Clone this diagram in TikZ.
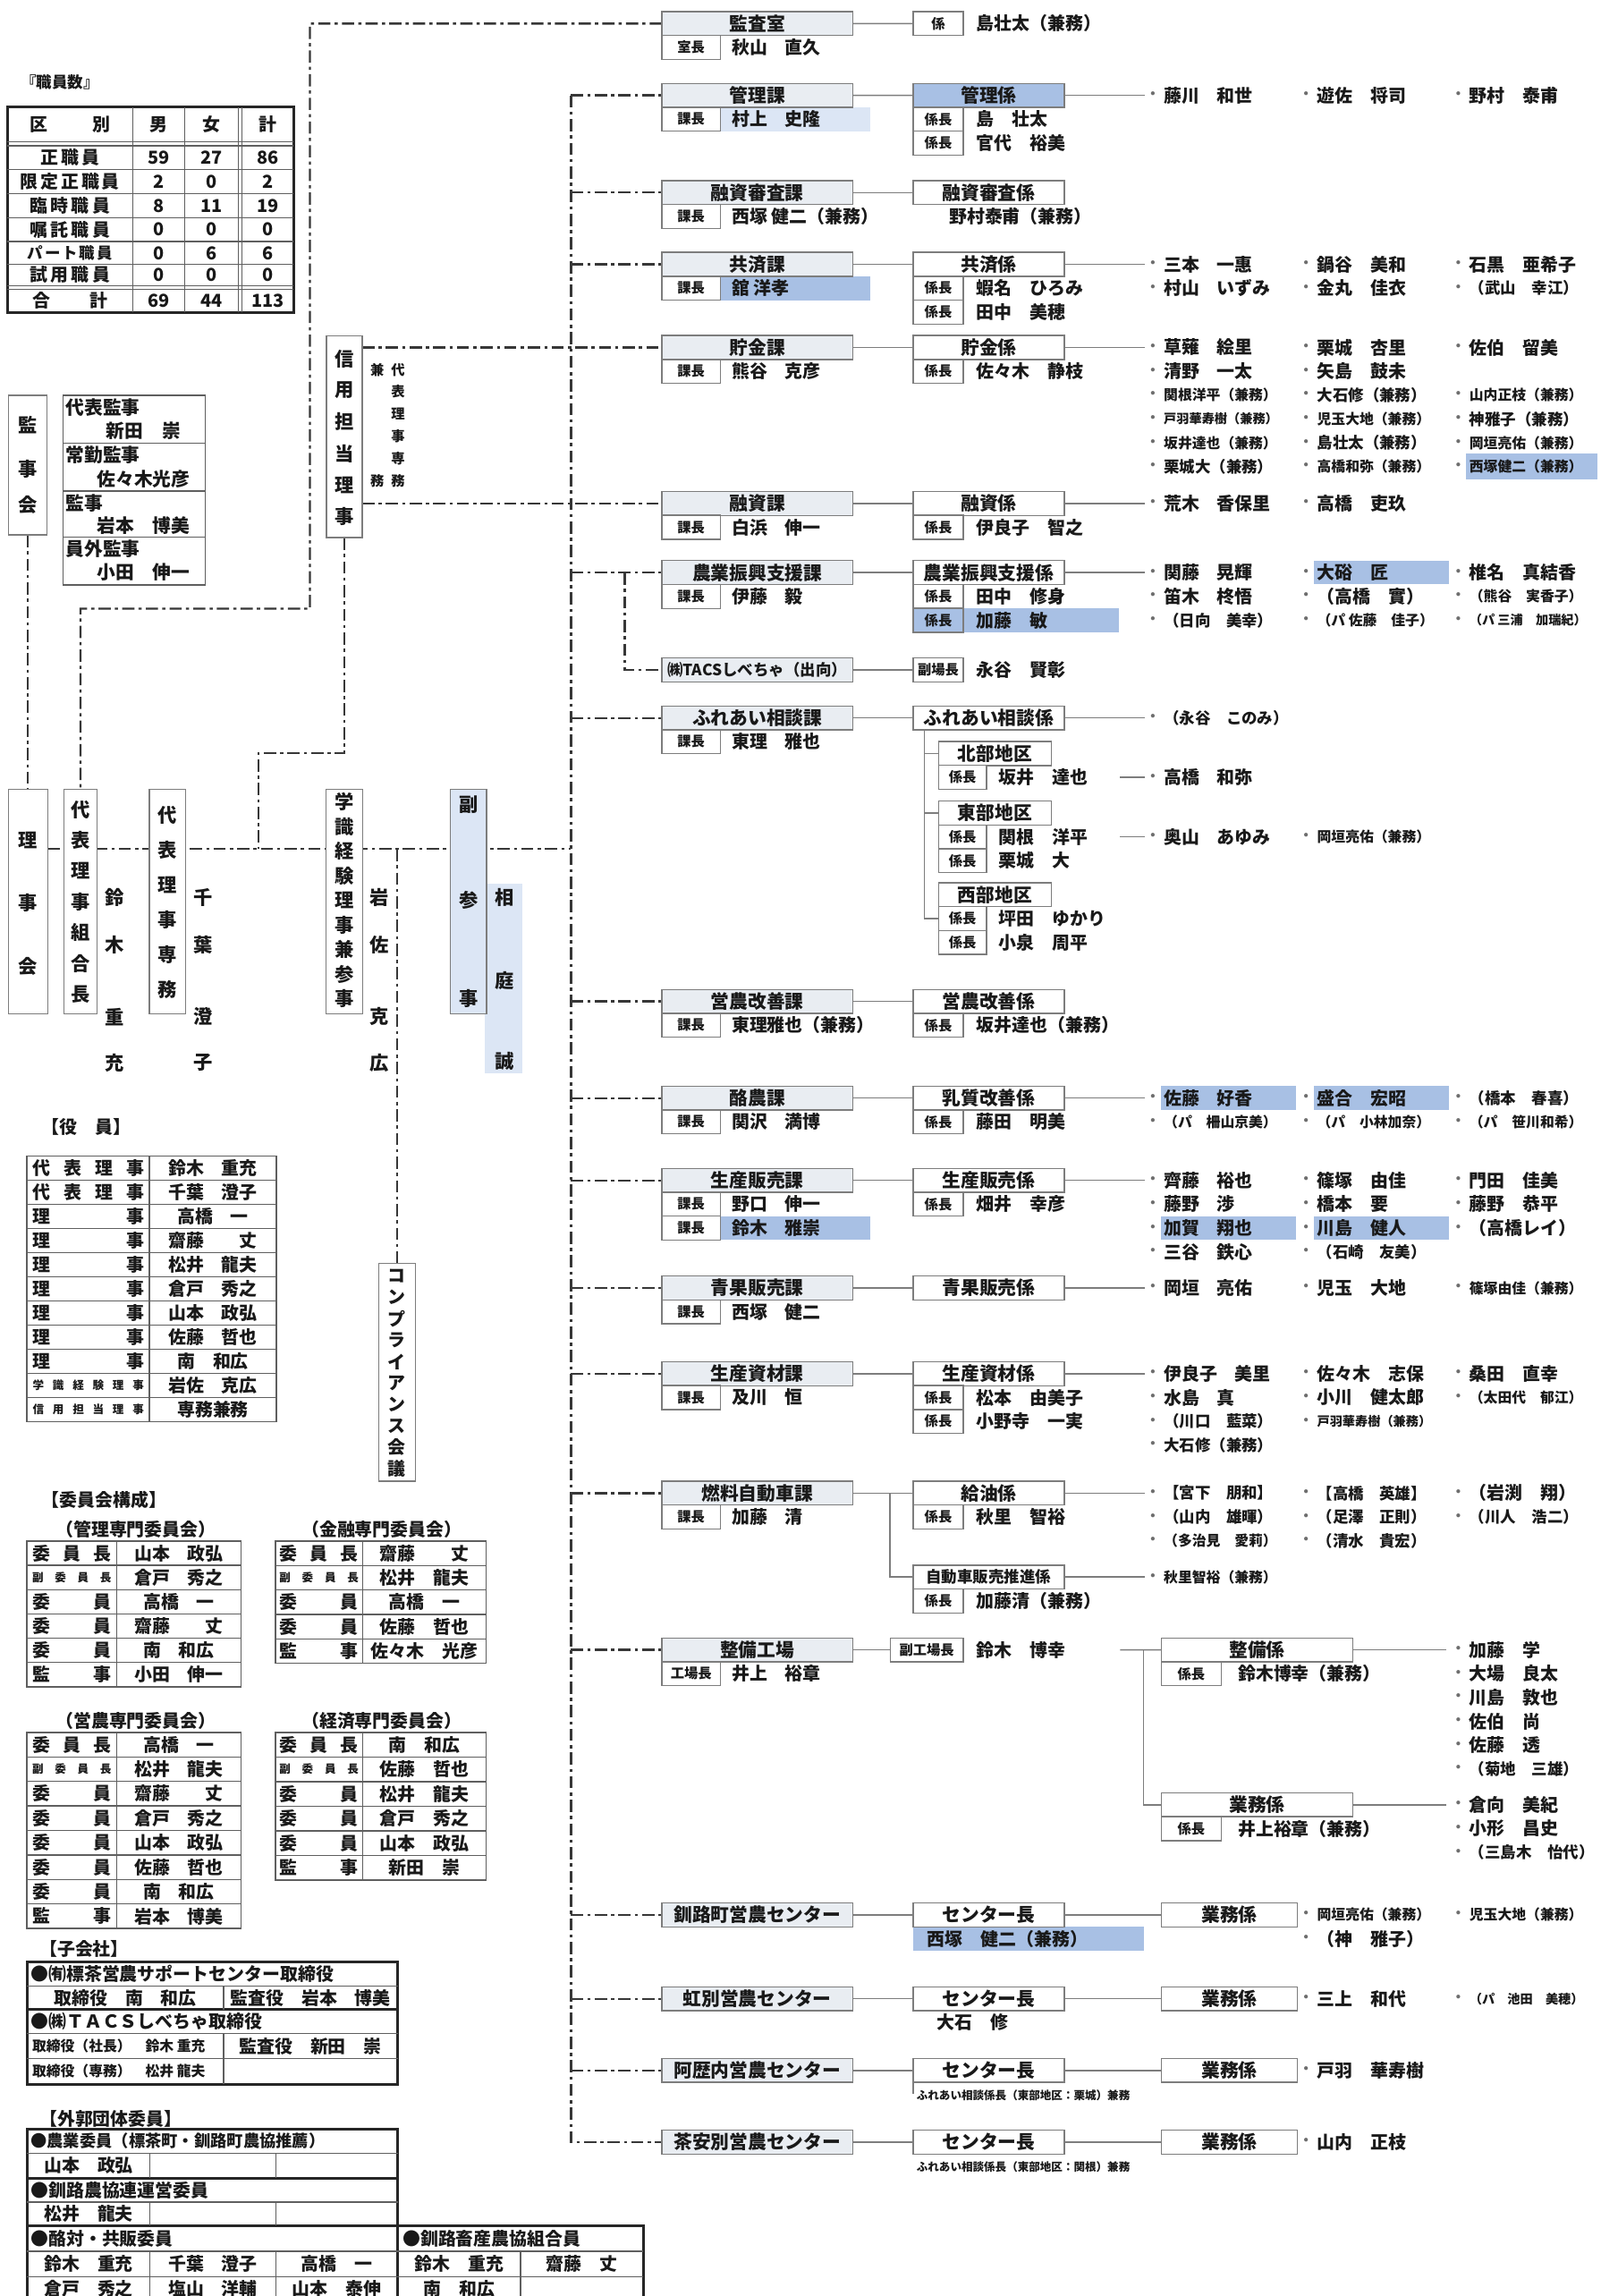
\documentclass[tikz,border=0pt]{standalone}
\usepackage{fontspec}
\setmainfont{Noto Sans CJK JP}
\usetikzlibrary{calc,backgrounds}
\pgfdeclarelayer{backzero}
\pgfsetlayers{backzero,background,main}
\definecolor{txtc}{RGB}{25,25,25}
\definecolor{bordc}{RGB}{125,125,125}
\definecolor{dashc}{RGB}{55,55,55}
\definecolor{hdrc}{RGB}{233,237,242}
\definecolor{hlb}{RGB}{168,192,228}
\definecolor{hll}{RGB}{220,230,245}
\definecolor{dotc}{RGB}{110,110,110}
\definecolor{tblc}{RGB}{95,95,95}
\newcommand\szH{\fontsize{7.6pt}{8pt}\selectfont\bfseries}
\newcommand\szN{\fontsize{7.3pt}{8pt}\selectfont\bfseries}
\newcommand\szM{\fontsize{6.4pt}{7pt}\selectfont\bfseries}
\newcommand\szE{\fontsize{5.8pt}{6pt}\selectfont\bfseries}
\newcommand\szT{\fontsize{5.2pt}{6pt}\selectfont\bfseries}
\newcommand\szU{\fontsize{4.6pt}{5pt}\selectfont\bfseries}
\newcommand\szS{\fontsize{5.6pt}{6pt}\selectfont\bfseries}
\newcommand\szV{\fontsize{7.8pt}{8pt}\selectfont\bfseries}
\newcommand\szL{\fontsize{6.7pt}{7pt}\selectfont\bfseries}
\def\xa{787.3}\def\xb{892}\def\xc{996}
\newcommand\myV[6]{\foreach \jch [count=\ji from 0] in {#6} {\node[font=#5] at (#1,{#2+(#3-#2)*\ji/(#4-1)}) {\jch};}}
\newcommand\mySec[3]{\node[kahdr] (#1) at (452,{#2-8.15}) {#3};}
\newcommand\myRowA[5]{\node[labA] (#1) at (452,{#2+8.15+16.3*#3}) {#4};\node[nm] (#1t) at (499.7,{#2+16.3+16.3*#3}) {#5};}
\newcommand\myKak[3]{\node[kbox] (#1) at (623.6,{#2-8.15}) {#3};}
\newcommand\myRowB[5]{\node[labB] (#1) at (623.6,{#2+8.15+16.3*#3}) {#4};\node[nm] (#1t) at (667,{#2+16.3+16.3*#3}) {#5};}
\newcommand\myP[5]{\node[font=\szS,text=dotc] (#1d) at (#2,#3) {・};\node[anchor=west,font=#4] (#1) at ({#2+7.5},#3) {#5};}
\newcommand\myTable[8]{%
 \draw[tblc,line width=0.6pt] (#1,#4) rectangle (#3,{#4+#6*#5});
 \draw[tblc,line width=0.5pt] (#2,#4) -- (#2,{#4+#6*#5});
 \foreach \tlab/\tnam [count=\ti from 0] in {#8} {
  \ifnum\ti>0 \draw[tblc,line width=0.5pt] (#1,{#4+#6*\ti}) -- (#3,{#4+#6*\ti}); \fi
  \node[font=\szN] at ({(#1+#2)/2},{#4+#6*\ti+#6/2}) {\makebox[#7][s]{\tlab}};
  \node[font=\szN] at ({(#2+#3)/2},{#4+#6*\ti+#6/2}) {\tnam};
 }}
\begin{document}
\begin{tikzpicture}[x=0.6pt,y=-0.6pt,
 every node/.style={inner sep=0pt,outer sep=0pt,text=txtc},
 bx/.style={draw=bordc,line width=0.5pt,fill=white,minimum height=9.8pt,anchor=north west},
 kahdr/.style={bx,fill=hdrc,minimum width=78.2pt,font=\szH},
 labA/.style={bx,minimum width=24pt,font=\szS},
 kbox/.style={bx,minimum width=61.9pt,font=\szH},
 labB/.style={bx,minimum width=20.6pt,font=\szS},
 abox/.style={bx,minimum width=46.2pt,font=\szH},
 labC/.style={bx,minimum width=19.6pt,font=\szS},
 sbox/.style={bx,minimum width=78.6pt,font=\szH},
 labD/.style={bx,minimum width=24.6pt,font=\szS},
 gbox/.style={bx,minimum width=55.8pt,font=\szH},
 vbox/.style={draw=bordc,line width=0.5pt,fill=white},
 nm/.style={anchor=west,font=\szN},
 vch/.style={font=\szV},
 dl/.style={draw=dashc,line width=0.85pt,dash pattern=on 5pt off 1.7pt on 1.3pt off 1.7pt},
 sl/.style={draw=bordc,line width=0.55pt},
 tl/.style={draw=tblc,line width=0.5pt},
 tk/.style={draw=black!85,line width=1pt}]
\useasboundingbox (0,0) rectangle (1093,1568);
\begin{pgfonlayer}{backzero}\fill[white] (0,0) rectangle (1093,1568);\end{pgfonlayer}

% ===== staff table
\node[anchor=west,font=\szM] (tshok) at (14.3,55.9) {『職員数』};
\draw[tk] (5.1,73.1) rectangle (200.5,213.3);
\foreach \yy in {115.9,132.3,148.6,165,180.5,96.9,99.5,195,197.6} \draw[tl] (5.1,\yy) -- (200.5,\yy);
\foreach \xx in {90.6,126.2,162.6,165.2} \draw[tl] (\xx,73.1) -- (\xx,213.3);
\node[font=\szN] at (47.8,85) {\makebox[33pt][s]{区\hfill 別}};
\node[font=\szN] at (108.4,85) {男};
\node[font=\szN] at (144.4,85) {女};
\node[font=\szN] at (182.85,85) {計};
\foreach \jla/\jwd/\jaa/\jbb/\jcc/\yy in {{正\hfill 職\hfill 員}/24pt/59/27/86/107.7,{限\hfill 定\hfill 正\hfill 職\hfill 員}/40.8pt/2/0/2/124.1,{臨\hfill 時\hfill 職\hfill 員}/33pt/8/11/19/140.45,{嘱\hfill 託\hfill 職\hfill 員}/33pt/0/0/0/156.8,{\szM パ\hfill ー\hfill ト\hfill 職\hfill 員}/34.8pt/0/6/6/172.75,{試\hfill 用\hfill 職\hfill 員}/33pt/0/0/0/187.75,{合\hfill 計}/30.6pt/69/44/113/205.45}{
 \node[font=\szN] at (47.8,\yy) {\makebox[\jwd][s]{\jla}};
 \node[font=\szN] at (108.4,\yy) {\jaa};
 \node[font=\szN] at (144.4,\yy) {\jbb};
 \node[font=\szN] at (182.85,\yy) {\jcc};}

% ===== auditors
\node[vbox,minimum width=15.9pt,minimum height=57.2pt] (kanjikai) at (18.95,317.7) {};
\foreach \jch/\yy in {監/290.4,事/320.4,会/345} \node[vch] at (18.95,\yy) {\jch};
\draw[tl] (43.2,270) rectangle (140,399.5);
\foreach \yy in {302.7,335.4,366.8} \draw[tl] (43.2,\yy) -- (140,\yy);
\foreach \jla/\jna/\ya/\yb in {代表監事/新田　崇/278.5/294,常勤監事/佐々木光彦/311/327,監事/岩本　博美/343.5/359,員外監事/小田　伸一/375/391}{
 \node[anchor=west,font=\szH] at (45,\ya) {\jla};
 \node[font=\szH] at (98,\yb) {\jna};}

% ===== vertical boxes
\node[vbox,minimum width=14.6pt,minimum height=82.7pt] (shinyo) at (235.2,298.3) {};
\myV{235.2}{245.1}{352.7}{6}{\szV}{信,用,担,当,理,事}
\node[font=\szS] at (257.6,252.4) {兼};
\node[font=\szS] at (257.6,328.5) {務};
\myV{271.8}{252.4}{328.5}{6}{\szS}{代,表,理,事,専,務}

\node[vbox,minimum width=16pt,minimum height=92pt] (rijikai) at (19.3,615.65) {};
\myV{19.3}{574}{659.7}{3}{\szV}{理,事,会}
\node[vbox,minimum width=13.7pt,minimum height=92pt] (dai1) at (54.95,615.65) {};
\myV{54.95}{552.8}{679}{7}{\szV}{代,表,理,事,組,合,長}
\foreach \jch/\yy in {鈴/612.9,木/645.4,重/694.3,充/725.8} \node[vch] at (78.5,\yy) {\jch};
\node[vbox,minimum width=14.9pt,minimum height=92pt] (dai2) at (114.4,615.65) {};
\myV{114.4}{556.9}{676}{6}{\szV}{代,表,理,事,専,務}
\foreach \jch/\yy in {千/612.9,葉/645.4,澄/694.3,子/725.8} \node[vch] at (139,\yy) {\jch};
\node[vbox,minimum width=14.9pt,minimum height=92pt] (gaku) at (235.2,615.65) {};
\myV{235.2}{547.7}{682}{9}{\szV}{学,識,経,験,理,事,兼,参,事}
\foreach \jch/\yy in {岩/612.9,佐/645.4,克/694.3,広/725.8} \node[vch] at (259,\yy) {\jch};
\node[vbox,fill=hll,minimum width=14.8pt,minimum height=92pt] (fuku) at (319.9,615.65) {};
\foreach \jch/\yy in {副/549.7,参/614.9,事/682} \node[vch] at (319.9,\yy) {\jch};
\foreach \jch/\yy in {相/612.9,庭/669.9,誠/724.8} \node[vch] at (344.3,\yy) {\jch};
\node[vbox,minimum width=15pt,minimum height=89.2pt] (compl) at (271.15,937.3) {};
\myV{271.15}{871.5}{1002.9}{10}{\szN}{コ,ン,プ,ラ,イ,ア,ン,ス,会,議}

% ===== officers table
\node[anchor=west,font=\szN] (tyaku) at (28.4,769.7) {【役　員】};
\myTable{18.5}{102.1}{188.7}{789.5}{11}{16.49}{45.6pt}{{代\hfill 表\hfill 理\hfill 事}/{鈴木　重充},{代\hfill 表\hfill 理\hfill 事}/{千葉　澄子},{理\hfill 事}/{高橋　一},{理\hfill 事}/{齋藤　　丈},{理\hfill 事}/{松井　龍夫},{理\hfill 事}/{倉戸　秀之},{理\hfill 事}/{山本　政弘},{理\hfill 事}/{佐藤　哲也},{理\hfill 事}/{南　和広},{\szU 学\hfill 識\hfill 経\hfill 験\hfill 理\hfill 事}/{岩佐　克広},{\szU 信\hfill 用\hfill 担\hfill 当\hfill 理\hfill 事}/{専務兼務}}

% ===== committees
\node[anchor=west,font=\szN] (tiin) at (28.4,1024.3) {【委員会構成】};
\node[font=\szN] at (92.8,1044.6) {（管理専門委員会）};
\node[font=\szN] at (260.7,1044.6) {（金融専門委員会）};
\node[font=\szN] at (92.8,1175) {（営農専門委員会）};
\node[font=\szN] at (260.7,1175) {（経済専門委員会）};
\myTable{18.5}{79.6}{164.7}{1052.4}{6}{16.6}{32.4pt}{{委\hfill 員\hfill 長}/{山本　政弘},{\szU 副\hfill 委\hfill 員\hfill 長}/{倉戸　秀之},{委\hfill 員}/{高橋　一},{委\hfill 員}/{齋藤　　丈},{委\hfill 員}/{南　和広},{監\hfill 事}/{小田　伸一}}
\myTable{188}{247.7}{332}{1052.4}{5}{16.7}{32.4pt}{{委\hfill 員\hfill 長}/{齋藤　　丈},{\szU 副\hfill 委\hfill 員\hfill 長}/{松井　龍夫},{委\hfill 員}/{高橋　一},{委\hfill 員}/{佐藤　哲也},{監\hfill 事}/{佐々木　光彦}}
\myTable{18.5}{79.6}{164.7}{1183.1}{8}{16.74}{32.4pt}{{委\hfill 員\hfill 長}/{高橋　一},{\szU 副\hfill 委\hfill 員\hfill 長}/{松井　龍夫},{委\hfill 員}/{齋藤　　丈},{委\hfill 員}/{倉戸　秀之},{委\hfill 員}/{山本　政弘},{委\hfill 員}/{佐藤　哲也},{委\hfill 員}/{南　和広},{監\hfill 事}/{岩本　博美}}
\myTable{188}{247.7}{332}{1183.1}{6}{16.8}{32.4pt}{{委\hfill 員\hfill 長}/{南　和広},{\szU 副\hfill 委\hfill 員\hfill 長}/{佐藤　哲也},{委\hfill 員}/{松井　龍夫},{委\hfill 員}/{倉戸　秀之},{委\hfill 員}/{山本　政弘},{監\hfill 事}/{新田　崇}}

% ===== subsidiaries
\node[anchor=west,font=\szN] (tko) at (27,1330.7) {【子会社】};
\draw[tk] (18.5,1339.9) rectangle (271.6,1423.3);
\draw[tk] (18.5,1372.4) -- (271.6,1372.4);
\foreach \yy in {1356.2,1388.7,1406} \draw[tl] (18.5,\yy) -- (271.6,\yy);
\draw[tl] (152.7,1356.2) -- (152.7,1372.4);
\draw[tl] (152.7,1388.7) -- (152.7,1423.3);
\node[anchor=west,font=\szN] at (21,1348) {●㈲標茶営農サポートセンター取締役};
\node[font=\szN] at (85.6,1364.3) {取締役　南　和広};
\node[font=\szN] at (212,1364.3) {監査役　岩本　博美};
\node[anchor=west,font=\szN] at (21,1380.5) {●㈱ＴＡＣＳしべちゃ取締役};
\node[anchor=west,font=\szE] at (22,1397.3) {取締役（社長）　鈴木 重充};
\node[font=\szN] at (212,1397.3) {監査役　新田　崇};
\node[anchor=west,font=\szE] at (22,1414.6) {取締役（専務）　松井 龍夫};

% ===== external
\node[anchor=west,font=\szN] (tgai) at (27,1446.8) {【外郭団体委員】};
\draw[tk] (18.5,1570) -- (18.5,1453.9) -- (271.6,1453.9) -- (271.6,1570);
\draw[tk] (18.5,1487.5) -- (271.6,1487.5);
\draw[tk] (18.5,1520) -- (439.4,1520) -- (439.4,1570);
\foreach \yy in {1470.6,1503.8} \draw[tl] (18.5,\yy) -- (271.6,\yy);
\foreach \yy in {1537.4,1554.7} \draw[tl] (18.5,\yy) -- (439.4,\yy);
\foreach \xx in {102.4,188.3} {\draw[tl] (\xx,1470.6) -- (\xx,1487.5); \draw[tl] (\xx,1503.8) -- (\xx,1520); \draw[tl] (\xx,1537.4) -- (\xx,1570);}
\draw[tl] (355.5,1537.4) -- (355.5,1570);
\node[anchor=west,font=\szL] at (21,1462.3) {●農業委員（標茶町・釧路町農協推薦）};
\node[font=\szN] at (60.5,1479) {山本　政弘};
\node[anchor=west,font=\szN] at (21,1495.7) {●釧路農協連運営委員};
\node[font=\szN] at (60.5,1511.9) {松井　龍夫};
\node[anchor=west,font=\szN] at (21,1528.7) {●酪対・共販委員};
\node[anchor=west,font=\szN] at (275,1528.7) {●釧路畜産農協組合員};
\foreach \jna/\xx in {鈴木　重充/60.5,千葉　澄子/145.4,高橋　一/230,鈴木　重充/313.6,齋藤　丈/397.5} \node[font=\szN] at (\xx,1546) {\jna};
\foreach \jna/\xx in {倉戸　秀之/60.5,塩山　洋輔/145.4,山本　泰伸/230,南　和広/313.6} \node[font=\szN] at (\xx,1563.3) {\jna};

% ===== right side sections
\mySec{kansa}{16.1}{監査室}
\myRowA{kansaA}{16.1}{0}{室長}{秋山　直久}
\node[labB] (kansak) at (623.6,7.95) {係};
\node[nm] (kansan) at (667,16.1) {島壮太（兼務）};

\mySec{kanri}{65.1}{管理課}
\myRowA{kanriA}{65.1}{0}{課長}{村上　史隆}
\node[kbox,fill=hlb] (kanrik) at (623.6,56.95) {管理係};
\myRowB{kanrikA}{65.1}{0}{係長}{島　壮太}
\myRowB{kanrikB}{65.1}{1}{係長}{官代　裕美}
\myP{p11}{\xa}{65.1}{\szN}{藤川　和世}
\myP{p12}{\xb}{65.1}{\szN}{遊佐　将司}
\myP{p13}{\xc}{65.1}{\szN}{野村　泰甫}

\mySec{yushin}{131.5}{融資審査課}
\myRowA{yushinA}{131.5}{0}{課長}{西塚 健二（兼務）}
\myKak{yushink}{131.5}{融資審査係}
\node[nm] (yushinn) at (648.2,147.8) {野村泰甫（兼務）};

\mySec{kyosai}{180.5}{共済課}
\myRowA{kyosaiA}{180.5}{0}{課長}{舘 洋孝}
\myKak{kyosaik}{180.5}{共済係}
\myRowB{kyosaikA}{180.5}{0}{係長}{蝦名　ひろみ}
\myRowB{kyosaikB}{180.5}{1}{係長}{田中　美穂}
\myP{q11}{\xa}{180.5}{\szN}{三本　一惠}
\myP{q12}{\xb}{180.5}{\szN}{鍋谷　美和}
\myP{q13}{\xc}{180.5}{\szN}{石黒　亜希子}
\myP{q21}{\xa}{196.8}{\szN}{村山　いずみ}
\myP{q22}{\xb}{196.8}{\szN}{金丸　佳衣}
\myP{q23}{\xc}{196.8}{\szM}{（武山　幸江）}

\mySec{chokin}{237.3}{貯金課}
\myRowA{chokinA}{237.3}{0}{課長}{熊谷　克彦}
\myKak{chokink}{237.3}{貯金係}
\myRowB{chokinkA}{237.3}{0}{係長}{佐々木　静枝}
\myP{c11}{\xa}{237.3}{\szN}{草薙　絵里}
\myP{c12}{\xb}{237.3}{\szN}{栗城　杏里}
\myP{c13}{\xc}{237.3}{\szN}{佐伯　留美}
\myP{c21}{\xa}{253.6}{\szN}{清野　一太}
\myP{c22}{\xb}{253.6}{\szN}{矢島　鼓未}
\myP{c31}{\xa}{269.9}{\szE}{関根洋平（兼務）}
\myP{c32}{\xb}{269.9}{\szM}{大石修（兼務）}
\myP{c33}{\xc}{269.9}{\szE}{山内正枝（兼務）}
\myP{c41}{\xa}{286.2}{\szT}{戸羽華寿樹（兼務）}
\myP{c42}{\xb}{286.2}{\szE}{児玉大地（兼務）}
\myP{c43}{\xc}{286.2}{\szM}{神雅子（兼務）}
\myP{c51}{\xa}{302.5}{\szE}{坂井達也（兼務）}
\myP{c52}{\xb}{302.5}{\szM}{島壮太（兼務）}
\myP{c53}{\xc}{302.5}{\szE}{岡垣亮佑（兼務）}
\myP{c61}{\xa}{318.8}{\szM}{栗城大（兼務）}
\myP{c62}{\xb}{318.8}{\szE}{高橋和弥（兼務）}
\myP{c63}{\xc}{318.8}{\szE}{西塚健二（兼務）}

\mySec{yushi}{343.8}{融資課}
\myRowA{yushiA}{343.8}{0}{課長}{白浜　伸一}
\myKak{yushik}{343.8}{融資係}
\myRowB{yushikA}{343.8}{0}{係長}{伊良子　智之}
\myP{r11}{\xa}{343.8}{\szN}{荒木　香保里}
\myP{r12}{\xb}{343.8}{\szN}{高橋　吏玖}

\mySec{nogyo}{391}{農業振興支援課}
\myRowA{nogyoA}{391}{0}{課長}{伊藤　毅}
\myKak{nogyok}{391}{農業振興支援係}
\myRowB{nogyokA}{391}{0}{係長}{田中　修身}
\node[labB,fill=hlb] (nogyokB) at (623.6,415.45) {係長};
\node[nm] (nogyokBt) at (667,423.6) {加藤　敏};
\myP{s11}{\xa}{391}{\szN}{関藤　晃輝}
\myP{s12}{\xb}{391}{\szN}{大硲　匠}
\myP{s13}{\xc}{391}{\szN}{椎名　真結香}
\myP{s21}{\xa}{407.3}{\szN}{笛木　柊悟}
\myP{s22}{\xb}{407.3}{\szN}{（高橋　實）}
\myP{s23}{\xc}{407.3}{\szE}{（熊谷　実香子）}
\myP{s31}{\xa}{423.6}{\szM}{（日向　美幸）}
\myP{s32}{\xb}{423.6}{\szE}{（パ 佐藤　佳子）}
\myP{s33}{\xc}{423.6}{\szT}{（パ 三浦　加瑞紀）}

\node[kahdr,font=\szM] (tacs) at (452,449.35) {㈱TACSしべちゃ（出向）};
\node[labB] (tacsk) at (623.6,449.35) {副場長};
\node[nm] (tacsn) at (667,457.5) {永谷　賢彰};

\mySec{fureai}{490.3}{ふれあい相談課}
\myRowA{fureaiA}{490.3}{0}{課長}{東理　雅也}
\myKak{fureaik}{490.3}{ふれあい相談係}
\myP{u11}{\xa}{490.3}{\szM}{（永谷　このみ）}
\node[abox] (hokubu) at (641,506.45) {北部地区};
\node[labC] (hokubuA) at (641,522.75) {係長};
\node[nm] (hokubuAt) at (682,530.9) {坂井　達也};
\coordinate (hkd1) at (765,530.9); \coordinate (hkd2) at (782,530.9);
\myP{u21}{\xa}{530.9}{\szN}{高橋　和弥}
\node[abox] (tobu) at (641,547.05) {東部地区};
\node[labC] (tobuA) at (641,563.35) {係長};
\node[nm] (tobuAt) at (682,571.5) {関根　洋平};
\node[labC] (tobuB) at (641,579.65) {係長};
\node[nm] (tobuBt) at (682,587.8) {栗城　大};
\coordinate (tbd1) at (765,571.5); \coordinate (tbd2) at (782,571.5);
\myP{u31}{\xa}{571.5}{\szN}{奥山　あゆみ}
\myP{u32}{\xb}{571.5}{\szE}{岡垣亮佑（兼務）}
\node[abox] (seibu) at (641,602.85) {西部地区};
\node[labC] (seibuA) at (641,619.15) {係長};
\node[nm] (seibuAt) at (682,627.3) {坪田　ゆかり};
\node[labC] (seibuB) at (641,635.45) {係長};
\node[nm] (seibuBt) at (682,643.6) {小泉　周平};

\mySec{einou}{683.9}{営農改善課}
\myRowA{einouA}{683.9}{0}{課長}{東理雅也（兼務）}
\myKak{einouk}{683.9}{営農改善係}
\myRowB{einoukA}{683.9}{0}{係長}{坂井達也（兼務）}

\mySec{rakuno}{749.9}{酪農課}
\myRowA{rakunoA}{749.9}{0}{課長}{関沢　満博}
\myKak{rakunok}{749.9}{乳質改善係}
\myRowB{rakunokA}{749.9}{0}{係長}{藤田　明美}
\myP{v11}{\xa}{749.9}{\szN}{佐藤　好香}
\myP{v12}{\xb}{749.9}{\szN}{盛合　宏昭}
\myP{v13}{\xc}{749.9}{\szM}{（橋本　春喜）}
\myP{v21}{\xa}{766.2}{\szE}{（パ　柵山京美）}
\myP{v22}{\xb}{766.2}{\szE}{（パ　小林加奈）}
\myP{v23}{\xc}{766.2}{\szE}{（パ　笹川和希）}

\mySec{seihan}{806.1}{生産販売課}
\myRowA{seihanA}{806.1}{0}{課長}{野口　伸一}
\myRowA{seihanB}{806.1}{1}{課長}{鈴木　雅崇}
\myKak{seihank}{806.1}{生産販売係}
\myRowB{seihankA}{806.1}{0}{係長}{畑井　幸彦}
\myP{w11}{\xa}{806.1}{\szN}{齊藤　裕也}
\myP{w12}{\xb}{806.1}{\szN}{篠塚　由佳}
\myP{w13}{\xc}{806.1}{\szN}{門田　佳美}
\myP{w21}{\xa}{822.4}{\szN}{藤野　渉}
\myP{w22}{\xb}{822.4}{\szN}{橋本　要}
\myP{w23}{\xc}{822.4}{\szN}{藤野　恭平}
\myP{w31}{\xa}{838.7}{\szN}{加賀　翔也}
\myP{w32}{\xb}{838.7}{\szN}{川島　健人}
\myP{w33}{\xc}{838.7}{\szN}{（高橋レイ）}
\myP{w41}{\xa}{855}{\szN}{三谷　鉄心}
\myP{w42}{\xb}{855}{\szM}{（石崎　友美）}

\mySec{seika}{879.6}{青果販売課}
\myRowA{seikaA}{879.6}{0}{課長}{西塚　健二}
\myKak{seikak}{879.6}{青果販売係}
\myP{x11}{\xa}{879.6}{\szN}{岡垣　亮佑}
\myP{x12}{\xb}{879.6}{\szN}{児玉　大地}
\myP{x13}{\xc}{879.6}{\szE}{篠塚由佳（兼務）}

\mySec{seizai}{938.1}{生産資材課}
\myRowA{seizaiA}{938.1}{0}{課長}{及川　恒}
\myKak{seizaik}{938.1}{生産資材係}
\myRowB{seizaikA}{938.1}{0}{係長}{松本　由美子}
\myRowB{seizaikB}{938.1}{1}{係長}{小野寺　一実}
\myP{z11}{\xa}{938.1}{\szN}{伊良子　美里}
\myP{z12}{\xb}{938.1}{\szN}{佐々木　志保}
\myP{z13}{\xc}{938.1}{\szN}{桑田　直幸}
\myP{z21}{\xa}{954.4}{\szN}{水島　真}
\myP{z22}{\xb}{954.4}{\szN}{小川　健太郎}
\myP{z23}{\xc}{954.4}{\szE}{（太田代　郁江）}
\myP{z31}{\xa}{970.7}{\szM}{（川口　藍菜）}
\myP{z32}{\xb}{970.7}{\szT}{戸羽華寿樹（兼務）}
\myP{z41}{\xa}{987}{\szM}{大石修（兼務）}

\mySec{nenryo}{1019.7}{燃料自動車課}
\myRowA{nenryoA}{1019.7}{0}{課長}{加藤　清}
\myKak{kyuyuk}{1019.7}{給油係}
\myRowB{kyuyukA}{1019.7}{0}{係長}{秋里　智裕}
\myP{g11}{\xa}{1019.7}{\szM}{【宮下　朋和】}
\myP{g12}{\xb}{1019.7}{\szM}{【高橋　英雄】}
\myP{g13}{\xc}{1019.7}{\szN}{（岩渕　翔）}
\myP{g21}{\xa}{1036}{\szM}{（山内　雄暉）}
\myP{g22}{\xb}{1036}{\szM}{（足澤　正則）}
\myP{g23}{\xc}{1036}{\szM}{（川人　浩二）}
\myP{g31}{\xa}{1052.3}{\szE}{（多治見　愛莉）}
\myP{g32}{\xb}{1052.3}{\szM}{（清水　貴宏）}
\node[kbox,font=\szM] (jidoshak) at (623.6,1068.85) {自動車販売推進係};
\myRowB{jidoshakA}{1077}{0}{係長}{加藤清（兼務）}
\myP{g41}{\xa}{1077}{\szE}{秋里智裕（兼務）}

\mySec{seibi}{1126.7}{整備工場}
\myRowA{seibiA}{1126.7}{0}{工場長}{井上　裕章}
\node[bx,minimum width=30pt,font=\szS] (fukuk) at (607.9,1118.55) {副工場長};
\node[nm] (fukun) at (667,1126.7) {鈴木　博幸};
\node[sbox] (seibik) at (793,1118.55) {整備係};
\node[labD] (seibikA) at (793,1134.85) {係長};
\node[nm] (seibikAt) at (845.5,1143) {鈴木博幸（兼務）};
\myP{h1}{\xc}{1126.7}{\szN}{加藤　学}
\myP{h2}{\xc}{1143}{\szN}{大場　良太}
\myP{h3}{\xc}{1159.3}{\szN}{川島　敦也}
\myP{h4}{\xc}{1175.6}{\szN}{佐伯　尚}
\myP{h5}{\xc}{1191.9}{\szN}{佐藤　透}
\myP{h6}{\xc}{1208.2}{\szM}{（菊地　三雄）}
\node[sbox] (gyomuk) at (793,1224.35) {業務係};
\node[labD] (gyomukA) at (793,1240.65) {係長};
\node[nm] (gyomukAt) at (845.5,1248.8) {井上裕章（兼務）};
\myP{h7}{\xc}{1232.5}{\szN}{倉向　美紀}
\myP{h8}{\xc}{1248.8}{\szN}{小形　昌史}
\myP{h9}{\xc}{1265.1}{\szM}{（三島木　怡代）}

\mySec{kushiro}{1307.7}{釧路町営農センター}
\myKak{kushirok}{1307.7}{センター長}
\node[nm] (kushiron) at (633.3,1324) {西塚　健二（兼務）};
\node[gbox] (kushirog) at (793,1299.55) {業務係};
\myP{k1}{\xb}{1307.7}{\szE}{岡垣亮佑（兼務）}
\myP{k2}{\xc}{1307.7}{\szE}{児玉大地（兼務）}
\myP{k3}{\xb}{1324}{\szN}{（神　雅子）}

\mySec{niji}{1365}{虹別営農センター}
\myKak{nijik}{1365}{センター長}
\node[nm] (nijin) at (639.7,1381.3) {大石　修};
\node[gbox] (nijig) at (793,1356.85) {業務係};
\myP{n1}{\xb}{1365}{\szN}{三上　和代}
\myP{n2}{\xc}{1365}{\szT}{（パ　池田　美穂）}

\mySec{areki}{1413.9}{阿歴内営農センター}
\myKak{arekik}{1413.9}{センター長}
\node[anchor=west,font=\szU] (arekin) at (626,1431) {ふれあい相談係長（東部地区：栗城）兼務};
\node[gbox] (arekig) at (793,1405.75) {業務係};
\myP{a1}{\xb}{1413.9}{\szN}{戸羽　華寿樹}

\mySec{chayasu}{1462.8}{茶安別営農センター}
\myKak{chayasuk}{1462.8}{センター長}
\node[anchor=west,font=\szU] (chayasun) at (626,1480) {ふれあい相談係長（東部地区：関根）兼務};
\node[gbox] (chayasug) at (793,1454.65) {業務係};
\myP{b1}{\xb}{1462.8}{\szN}{山内　正枝}

% ===== background: highlights and connectors
\begin{scope}[on background layer]
\fill[hll] (492,73.25) rectangle (594.3,89.55);
\fill[hlb] (492,188.65) rectangle (594.3,204.95);
\fill[hlb] (1001,309.8) rectangle (1091,327.3);
\fill[hlb] (658,415.45) rectangle (764,431.75);
\fill[hlb] (897,382.85) rectangle (989.7,399.15);
\fill[hlb] (793,741.75) rectangle (885,758.05);
\fill[hlb] (897,741.75) rectangle (989.7,758.05);
\fill[hlb] (492,830.55) rectangle (594.3,846.85);
\fill[hlb] (793,830.55) rectangle (885,846.85);
\fill[hlb] (897,830.55) rectangle (989.7,846.85);
\fill[hlb] (623.6,1315.85) rectangle (781,1332.15);
\fill[hll] (331,603.7) rectangle (357,733);

\coordinate (trk) at (390,0);
\coordinate (nl) at (781.8,0);
\coordinate (kc1) at (211.7,16.1);
\coordinate (kc2) at (211.7,415.7);
\coordinate (mY) at (0,579.7);
\coordinate (sb1) at (235.2,514.5);
\coordinate (sb2) at (176.4,514.5);
\coordinate (cp) at (271.15,579.7);
\coordinate (tc) at (426.6,0);
\coordinate (fv) at (631.2,498.45);
\coordinate (nv) at (607.9,0);
\coordinate (sjA) at (765,1126.7);
\coordinate (sjB) at (781,1126.7);
\coordinate (se) at (987.6,0);

\draw[dl] (kansa.west) -- (kc1) -- (kc2) -- (kc2 -| dai1.north) -- (dai1.north);
\draw[dl] (kanjikai.south) -- (kanjikai.south |- rijikai.north);
\draw[dl] (trk |- kanri.west) -- (trk |- chayasu.west) -- (chayasu.west);
\foreach \jnn in {kanri,yushin,kyosai,nogyo,fureai,einou,rakuno,seihan,seika,seizai,nenryo,seibi,kushiro,niji,areki}
 \draw[dl] (trk |- \jnn.west) -- (\jnn.west);
\draw[dl] (shinyo.east |- chokin.west) -- (chokin.west);
\draw[dl] (shinyo.east |- yushi.west) -- (yushi.west);
\draw[dl] (tc |- nogyo.west) -- (tc |- tacs.west) -- (tacs.west);
\draw[dl] (rijikai.east |- mY) -- (trk |- mY);
\draw[dl] (shinyo.south) -- (sb1) -- (sb2) -- (sb2 |- mY);
\draw[dl] (cp) -- (compl.north);

\draw[sl] (kansa.east) -- (kansak.west);
\foreach \jua/\jub in {kanri/kanrik,yushin/yushink,kyosai/kyosaik,chokin/chokink,yushi/yushik,nogyo/nogyok,tacs/tacsk,fureai/fureaik,einou/einouk,rakuno/rakunok,seihan/seihank,seika/seikak,seizai/seizaik,nenryo/kyuyuk,seibi/fukuk,kushiro/kushirok,niji/nijik,areki/arekik,chayasu/chayasuk}
 \draw[sl] (\jua.east) -- (\jub.west);
\foreach \jub in {kanrik,kyosaik,chokink,yushik,nogyok,fureaik,rakunok,seihank,seikak,seizaik,kyuyuk,jidoshak}
 \draw[sl] (\jub.east) -- (nl |- \jub.east);
\foreach \jua/\jub in {kushirok/kushirog,nijik/nijig,arekik/arekig,chayasuk/chayasug}
 \draw[sl] (\jua.east) -- (\jub.west);
\draw[sl] (fv) -- (fv |- seibuA.west) -- (seibuA.west);
\draw[sl] (fv |- hokubu.west) -- (hokubu.west);
\draw[sl] (fv |- tobu.west) -- (tobu.west);
\draw[sl] (hkd1) -- (hkd2);
\draw[sl] (tbd1) -- (tbd2);
\draw[sl] (nv |- kyuyuk.west) -- (nv |- jidoshak.west) -- (jidoshak.west);
\draw[sl] (sjA) -- (seibik.west);
\draw[sl] (sjB) -- (sjB |- gyomuk.west) -- (gyomuk.west);
\draw[sl] (seibik.east) -- (se |- seibik.east);
\draw[sl] (gyomuk.east) -- (se |- gyomuk.east);
\draw[sl] (arekik.south west) -- ++(0,8);
\end{scope}
\end{tikzpicture}
\end{document}
